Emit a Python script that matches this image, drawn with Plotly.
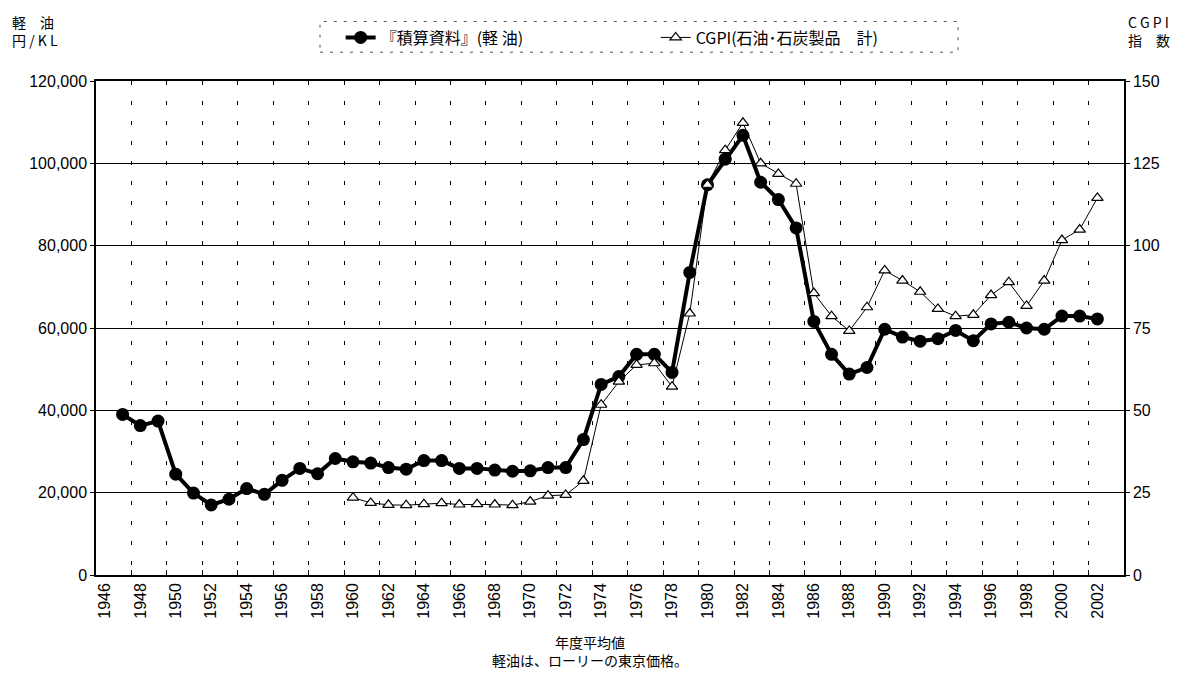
import plotly.graph_objects as go

#####################
# DATA              #
#####################
diesel_years = list(range(1947, 2003))
diesel_price = [39000, 36300, 37400, 24500, 19900, 17000, 18400, 21000, 19600, 23000,
                25900, 24600, 28300, 27500, 27200, 26100, 25700, 27800, 27800, 25900,
                25900, 25500, 25200, 25300, 26100, 26100, 32900, 46300, 48200, 53600,
                53600, 49200, 73500, 94800, 101000, 106800, 95400, 91200, 84300, 61600,
                53600, 48800, 50400, 59700, 57800, 56800, 57400, 59400, 56900, 61000,
                61400, 60000, 59700, 62900, 62900, 62200]
cgpi_years = list(range(1960, 2003))
cgpi_index = [23.5, 21.9, 21.3, 21.2, 21.5, 21.8, 21.4, 21.5, 21.4, 21.2,
              22.3, 24.1, 24.3, 28.6, 51.7, 58.7, 63.8, 64.3, 57.2, 79.4,
              118.5, 129.0, 137.3, 125.0, 121.8, 118.8, 85.6, 78.6, 74.1, 81.3,
              92.5, 89.4, 86.0, 80.8, 78.6, 79.0, 85.0, 88.9, 81.7, 89.4,
              101.7, 104.9, 114.5]
tick_years = list(range(1946, 2003, 2))
tick_labels = [str(y) for y in tick_years]
left_ticks = [0, 20000, 40000, 60000, 80000, 100000, 120000]
right_ticks = [0, 25, 50, 75, 100, 125, 150]

# boundaries between categories (excel style), every 2 years
bounds = [y + 0.5 for y in range(1947, 2002, 2)]

latin = "Arial, Liberation Sans, sans-serif"
cjk = "Noto Sans CJK JP, sans-serif"

# page body has an 8px margin, so the figure is drawn 8px smaller and shifted
fig = go.Figure()
fig.add_trace(go.Scatter(x=cgpi_years, y=cgpi_index, yaxis="y2",
                         mode="lines+markers", name="CGPI(石油･石炭製品\u3000計)",
                         line=dict(color="black", width=1),
                         marker=dict(symbol="triangle-up", size=10, color="white",
                                     line=dict(color="black", width=1.2))))
fig.add_trace(go.Scatter(x=diesel_years, y=diesel_price,
                         mode="lines+markers", name="『積算資料』(軽 油)",
                         line=dict(color="black", width=4),
                         marker=dict(symbol="circle", size=13, color="black")))

fig.update_layout(
    width=1166, height=662,
    margin=dict(l=88, r=50, t=69, b=95),
    paper_bgcolor="white", plot_bgcolor="white",
    font=dict(family=latin, size=16, color="black"),
    showlegend=True,
    legend=dict(orientation="h", x=0.238, y=1.088, xanchor="left", yanchor="middle",
                font=dict(family=cjk, size=16), traceorder="reversed",
                entrywidth=270, entrywidthmode="pixels",
                bgcolor="rgba(0,0,0,0)"),
    xaxis=dict(range=[1945.5, 2003.5], tickmode="array", tickvals=tick_years,
               ticktext=tick_labels, tickangle=-90, ticks="",
               showgrid=False, zeroline=False,
               showline=True, linecolor="black", linewidth=1.5, mirror=True,
               tickfont=dict(family=latin, size=16),
               minor=dict(tickmode="array", tickvals=bounds, ticks="inside",
                          ticklen=5, tickcolor="black", tickwidth=1,
                          showgrid=True, gridcolor="black", gridwidth=1,
                          griddash="4px,16px")),
    yaxis=dict(range=[0, 120000], tickmode="array", tickvals=left_ticks,
               tickformat=",", ticks="outside", ticklen=4, tickcolor="black",
               showgrid=True, gridcolor="black", gridwidth=1, zeroline=False,
               showline=True, linecolor="black", linewidth=1.5, mirror=True,
               tickfont=dict(family=latin, size=16)),
    yaxis2=dict(range=[0, 150], tickmode="array", tickvals=right_ticks,
                overlaying="y", side="right", ticks="outside", ticklen=4,
                tickcolor="black", showgrid=False, zeroline=False,
                showline=True, linecolor="black", linewidth=1.5,
                tickfont=dict(family=latin, size=16)),
    shapes=[dict(type="rect", xref="paper", yref="paper",
                 x0=(320 - 96) / 1028, x1=(958 - 96) / 1028,
                 y0=1 + (77 - 48) / 498, y1=1 + (77 - 17) / 498,
                 line=dict(color="#555555", width=1, dash="3px,7px"),
                 fillcolor="rgba(0,0,0,0)")],
    annotations=[
        dict(text="軽\u3000油<br>円 / K L", xref="paper", yref="paper",
             x=(10 - 96) / 1028, y=1 + (77 - 5) / 498, xanchor="left", yanchor="top",
             showarrow=False, align="left", font=dict(family=cjk, size=14)),
        dict(text="C G P I<br>指\u3000数", xref="paper", yref="paper",
             x=(1172 - 96) / 1028, y=1 + (77 - 5) / 498, xanchor="right", yanchor="top",
             showarrow=False, align="left", font=dict(family=cjk, size=14)),
        dict(text="年度平均値<br>軽油は、ローリーの東京価格。", xref="paper", yref="paper",
             x=(590 - 96) / 1028, y=-(630 - 575) / 498, xanchor="center", yanchor="top",
             showarrow=False, align="center", font=dict(family=cjk, size=14)),
    ],
)

fig.write_html("out.html")
